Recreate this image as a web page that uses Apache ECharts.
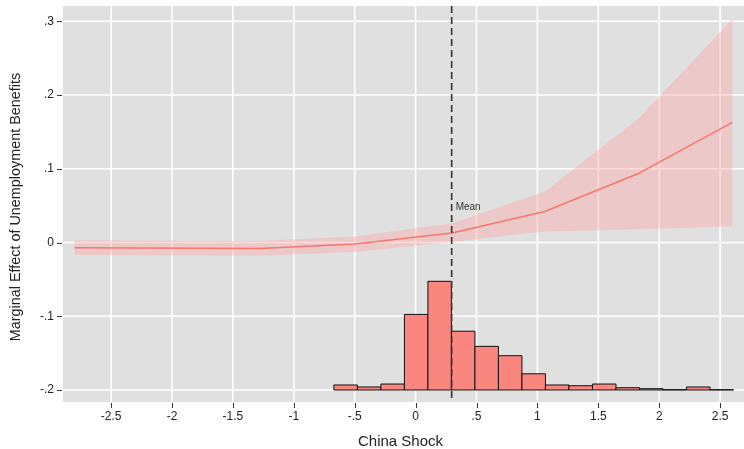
<!DOCTYPE html>
<html><head><meta charset="utf-8">
<script src="https://cdn.jsdelivr.net/npm/echarts@6/dist/echarts.min.js"></script>
<style>html,body{margin:0;padding:0;background:#fff}#c{width:744px;height:449px}</style>
</head><body><div id="c"></div>
<script>
// Marginal effect curve
const shockX = [-2.8, -1.28, -0.5, 0.3, 1.06, 1.835, 2.6];
const effect = [-0.007, -0.008, -0.002, 0.013, 0.042, 0.094, 0.163];
const ciUpper = [0.003, 0.002, 0.008, 0.026, 0.069, 0.169, 0.303];
const ciLower = [-0.017, -0.018, -0.013, 0.001, 0.015, 0.018, 0.022];
// Histogram of China Shock (bin edges and bar tops on the y scale)
const binEdges = [-0.671, -0.478, -0.285, -0.092, 0.101, 0.294, 0.487, 0.680, 0.873, 1.066, 1.259, 1.452, 1.645, 1.838, 2.031, 2.224, 2.417, 2.610];
const binTops = [-0.1932, -0.1959, -0.1919, -0.0975, -0.0526, -0.1203, -0.1408, -0.1535, -0.1780, -0.1932, -0.1942, -0.1919, -0.1969, -0.1982, -0.1996, -0.1959, -0.1996];
const histBase = -0.2;
const meanShock = 0.296;
// Ticks
const xTicks = [-2.5, -2, -1.5, -1, -0.5, 0, 0.5, 1, 1.5, 2, 2.5];
const yTicks = [-0.2, -0.1, 0, 0.1, 0.2, 0.3];

// panel range, and the axis range which includes room for the tick marks
const X_MIN = -2.895, X_MAX = 2.696, Y_MIN = -0.2163, Y_MAX = 0.3207;
const AX_X_MIN = -2.944, AX_Y_MIN = -0.2244;

function fmt(v) {
  if (Math.abs(v) < 1e-9) return '0';
  let s = String(Math.round(v * 10) / 10);
  return s.replace(/^(-?)0\./, '$1.');
}

const FONT = '"Liberation Sans", Arial, sans-serif';
const chart = echarts.init(document.getElementById('c'));

const histData = binTops.map((t, i) => [binEdges[i], binEdges[i + 1], t]);
const TICK_LEN = 5;

chart.setOption({
  animation: false,
  backgroundColor: '#ffffff',
  grid: { left: 57, right: 0, top: 6, bottom: 41, show: false,
          containLabel: false, outerBoundsMode: 'none' },
  xAxis: {
    type: 'value', min: AX_X_MIN, max: X_MAX,
    name: 'China Shock', nameLocation: 'middle', nameGap: 26,
    nameTextStyle: { fontFamily: FONT, fontSize: 15, color: '#222' },
    axisLine: { show: false, onZero: false },
    axisTick: { show: false },
    axisLabel: { fontFamily: FONT, fontSize: 12, color: '#222', margin: 3, customValues: xTicks, formatter: fmt },
    splitLine: { show: false }
  },
  yAxis: {
    type: 'value', min: AX_Y_MIN, max: Y_MAX,
    name: 'Marginal Effect of Unemployment Benefits', nameLocation: 'middle', nameGap: 34,
    nameTextStyle: { fontFamily: FONT, fontSize: 14.4, color: '#222' },
    axisLine: { show: false, onZero: false },
    axisTick: { show: false },
    axisLabel: { fontFamily: FONT, fontSize: 12, color: '#222', margin: 3, customValues: yTicks, formatter: fmt },
    splitLine: { show: false }
  },
  series: [
    { // grey panel
      type: 'custom', silent: true, z: 0,
      data: [[X_MIN, Y_MIN]],
      renderItem: function (params, api) {
        const a = api.coord([X_MIN, Y_MAX]);
        const b = api.coord([X_MAX, Y_MIN]);
        return { type: 'rect', shape: { x: a[0], y: a[1], width: b[0] - a[0], height: b[1] - a[1] }, style: { fill: '#E0E0E0' } };
      }
    },
    { // vertical grid lines + x ticks
      type: 'custom', silent: true, z: 1,
      data: xTicks.map(v => [v, 0]),
      renderItem: function (params, api) {
        const p1 = api.coord([api.value(0), Y_MIN]);
        const p2 = api.coord([api.value(0), Y_MAX]);
        const x = Math.round(p1[0]) + 0.5;
        return { type: 'group', children: [
          { type: 'line', shape: { x1: p1[0], y1: p1[1], x2: p2[0], y2: p2[1] }, style: { stroke: '#ffffff', lineWidth: 1.6 } },
          { type: 'line', shape: { x1: x, y1: p1[1] + 1, x2: x, y2: p1[1] + 1 + TICK_LEN }, style: { stroke: '#333', lineWidth: 1 } }
        ] };
      }
    },
    { // horizontal grid lines + y ticks
      type: 'custom', silent: true, z: 1,
      data: yTicks.map(v => [0, v]),
      renderItem: function (params, api) {
        const p1 = api.coord([X_MIN, api.value(1)]);
        const p2 = api.coord([X_MAX, api.value(1)]);
        const y = Math.round(p1[1]) + 0.5;
        return { type: 'group', children: [
          { type: 'line', shape: { x1: p1[0], y1: p1[1], x2: p2[0], y2: p2[1] }, style: { stroke: '#ffffff', lineWidth: 1.6 } },
          { type: 'line', shape: { x1: p1[0] - 1, y1: y, x2: p1[0] - 1 - TICK_LEN, y2: y }, style: { stroke: '#333', lineWidth: 1 } }
        ] };
      }
    },
    { // confidence band polygon
      type: 'custom', silent: true, z: 2,
      data: [[shockX[0], ciLower[0]]],
      renderItem: function (params, api) {
        const pts = [];
        for (let i = 0; i < shockX.length; i++) pts.push(api.coord([shockX[i], ciUpper[i]]));
        for (let i = shockX.length - 1; i >= 0; i--) pts.push(api.coord([shockX[i], ciLower[i]]));
        return { type: 'polygon', shape: { points: pts }, style: { fill: 'rgba(255,168,168,0.42)' } };
      }
    },
    { type: 'line', data: shockX.map((x, i) => [x, effect[i]]), symbol: 'none', z: 3,
      lineStyle: { color: '#F8766D', width: 1.5 } },
    { // histogram
      type: 'custom', z: 4,
      data: histData,
      renderItem: function (params, api) {
        const a = api.coord([api.value(0), api.value(2)]);
        const b = api.coord([api.value(1), histBase]);
        return { type: 'rect', shape: { x: a[0], y: a[1], width: b[0] - a[0], height: b[1] - a[1] },
          style: { fill: '#FA877F', stroke: '#111', lineWidth: 1 } };
      }
    },
    { // mean line and label
      type: 'custom', z: 5,
      data: [[meanShock, 0.0484]],
      renderItem: function (params, api) {
        const top = api.coord([api.value(0), Y_MAX]);
        const bot = api.coord([api.value(0), Y_MIN]);
        const lab = api.coord([api.value(0), api.value(1)]);
        return { type: 'group', children: [
          { type: 'line', shape: { x1: top[0], y1: top[1], x2: bot[0], y2: bot[1] },
            style: { stroke: '#333', lineWidth: 1.6, lineDash: [7, 4] } },
          { type: 'text', x: lab[0] + 4, y: lab[1],
            style: { text: 'Mean', fontFamily: FONT, fontSize: 10, fill: '#333', verticalAlign: 'middle', align: 'left' } }
        ] };
      }
    }
  ]
});
</script></body></html>
